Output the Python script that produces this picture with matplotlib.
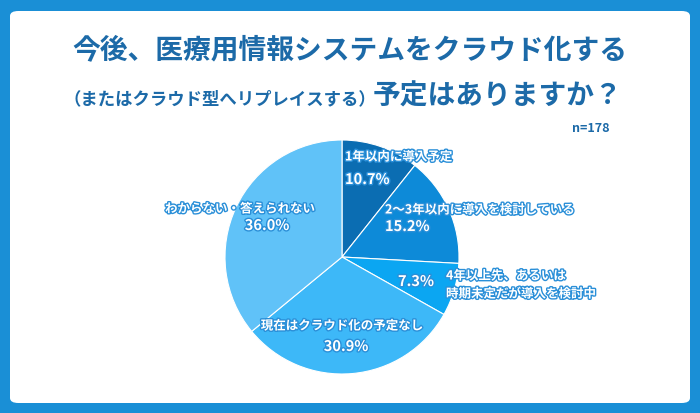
import matplotlib
matplotlib.use("Agg")
import matplotlib.pyplot as plt
import matplotlib.patheffects as pe
from matplotlib.patches import FancyBboxPatch

categories = ["1年以内に導入予定", "2〜3年以内に導入を検討している",
              "4年以上先、あるいは\n時期未定だが導入を検討中",
              "現在はクラウド化の予定なし", "わからない・答えられない"]
values = [10.7, 15.2, 7.3, 30.9, 36.0]
colors = ["#0b6db2", "#0d8ad8", "#0ba6f2", "#3db8f8", "#60c2f8"]

plt.rcParams["font.family"] = "Noto Sans CJK JP"
W, H = 700, 414
fig = plt.figure(figsize=(7, 4.14), dpi=100)
fig.patch.set_facecolor("#1a8fd6")
card = FancyBboxPatch((10/W, 10/H), 680/W, 392/H, boxstyle="round,pad=0,rounding_size=0.012",
                      transform=fig.transFigure, facecolor="white", edgecolor="none", zorder=-10)
fig.patches.append(card)

tc = "#1c6aa8"
fig.text(350/W, 1-50/H, "今後、医療用情報システムをクラウド化する", ha="center", va="center",
         fontsize=20, fontweight="bold", color=tc)
fig.text(220/W, 1-99/H, "（またはクラウド型へリプレイスする）", ha="center", va="center",
         fontsize=12.5, fontweight="bold", color=tc)
fig.text(498/W, 1-97/H, "予定はありますか？", ha="center", va="center",
         fontsize=20, fontweight="bold", color=tc)
fig.text(610/W, 1-129/H, "n=178", ha="right", va="center", fontsize=9, fontweight="bold", color=tc)

cx, cy, r = 342, 258, 117
ax = fig.add_axes([(cx-r)/W, (H-cy-r)/H, 2*r/W, 2*r/H])
ax.pie(values, colors=colors, startangle=90, counterclock=False,
       wedgeprops=dict(linewidth=0.8, edgecolor="white"))
ax.set_xlim(-1, 1); ax.set_ylim(-1, 1); ax.set_aspect("auto"); ax.axis("off")

stroke = [pe.withStroke(linewidth=2, foreground="#2a8fd8")]
def t(x, y, s, size=9, ha="left"):
    fig.text(x/W, 1-y/H, s, ha=ha, va="center", fontsize=size, color="white",
             fontweight="bold", path_effects=stroke, linespacing=1.5, zorder=5)

t(345, 158, categories[0])
t(345, 180, f"{values[0]}%", 10.5)
t(385, 211, categories[1])
t(385, 227, f"{values[1]}%", 10.5)
t(398, 282, f"{values[2]}%", 10.5)
t(446, 286, categories[2])
t(342, 327, categories[3], ha="center")
t(346, 347, f"{values[3]}%", 10.5, ha="center")
t(240, 210, categories[4], ha="center")
t(267, 226, f"{values[4]}%", 10.5, ha="center")

fig.savefig("out.png", dpi=100, facecolor=fig.get_facecolor())
